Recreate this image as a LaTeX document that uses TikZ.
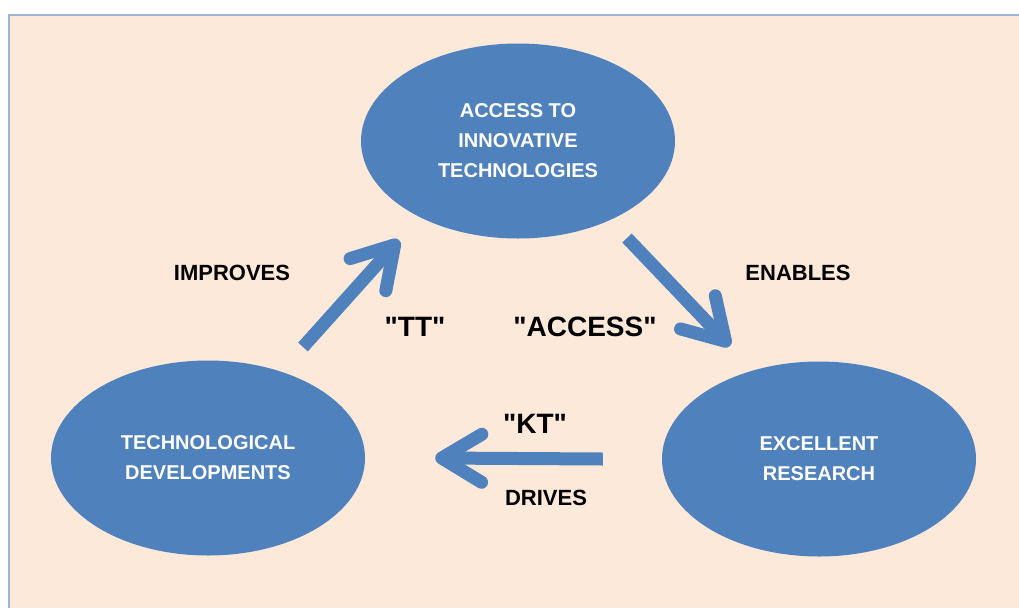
\documentclass[tikz,border=0pt]{standalone}
\usepackage{fontspec}
\setmainfont{Liberation Sans}
\usetikzlibrary{arrows.meta}
\usetikzlibrary{positioning}
\usetikzlibrary{calc}
\usetikzlibrary{shapes.geometric}
\definecolor{panelfill}{HTML}{FCE9DA}
\definecolor{panelline}{HTML}{9DB5D5}
\definecolor{cycleblue}{HTML}{4F81BD}
\newcommand{\dq}{\textquotedbl}
\tikzset{
	every node/.style={align=center},
	%
	topic/.style={ellipse, fill=cycleblue, text=white, inner sep=0pt,
		minimum width=314pt, minimum height=195pt,
		font=\fontsize{20}{30}\selectfont\bfseries},
	verb/.style={font=\fontsize{22}{26}\selectfont\bfseries},
	tag/.style={font=\fontsize{28}{32}\selectfont\bfseries},
	%
	flow/.style={draw=cycleblue, line width=13pt,
		-{Straight Barb[length=40pt, width=48pt, line cap=round,
			line join=round]}},
}

\begin{document}
\begin{tikzpicture}[x=1pt, y=-1pt]
		\useasboundingbox (0,0) rectangle (1019,608);
		\fill [panelfill] (9,15) rectangle (1019,608);
		\draw [panelline, line width=2pt] (1019,15) -- (9,15) -- (9,608);
		%
		\node (access) [topic] at (518,141) {ACCESS TO\\INNOVATIVE\\TECHNOLOGIES};
		\node (tech-dev) [topic] at (208,458) {TECHNOLOGICAL\\DEVELOPMENTS};
		\node (research) [topic] at (819,459) {EXCELLENT\\RESEARCH};
		%
		\coordinate (tt-tail) at (303,347);
		\coordinate (tt-tip) at (399,240);
		\coordinate (access-tail) at (627,238);
		\coordinate (access-tip) at (730,346);
		%
		\draw [flow] (tt-tail) -- (tt-tip);
		\draw [flow] (access-tail) -- (access-tip);
		\draw [flow] ([xshift=-59pt]research.west) -- ([xshift=70pt]tech-dev.east);
		%
		\node (improves) [verb] at (232,273) {IMPROVES};
		\node (tt) [tag] at (415,327) {\dq TT\dq};
		\node (access-tag) [tag] at (585,327) {\dq ACCESS\dq};
		\node (enables) [verb] at (798,273) {ENABLES};
		\node (kt) [tag] at (535,424) {\dq KT\dq};
		\node (drives) [verb] at (546,498) {DRIVES};
	\end{tikzpicture}
\end{document}
